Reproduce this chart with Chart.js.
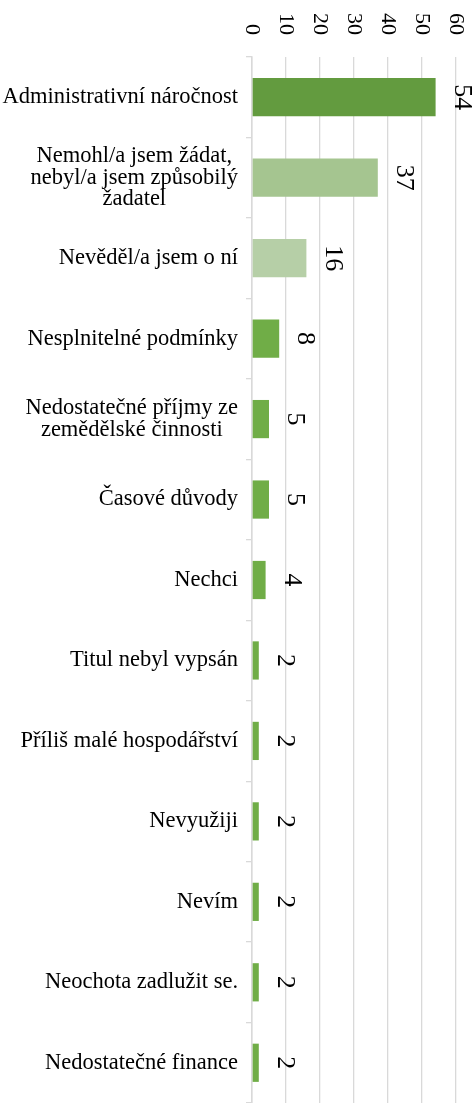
<!DOCTYPE html>
<html>
<head>
<meta charset="utf-8">
<script src="https://cdn.jsdelivr.net/npm/chart.js@4"></script>
<style>
html,body{margin:0;padding:0;background:#fff;}
canvas{display:block;}
</style>
</head>
<body>
<canvas id="c" width="476" height="1103" style="width:476px;height:1103px"></canvas>
<script>
const categories = [
  "Administrativní náročnost",
  ["Nemohl/a jsem žádat,", "nebyl/a jsem způsobilý", "žadatel"],
  "Nevěděl/a jsem o ní",
  "Nesplnitelné podmínky",
  ["Nedostatečné příjmy ze", "zemědělské činnosti"],
  "Časové důvody",
  "Nechci",
  "Titul nebyl vypsán",
  "Příliš malé hospodářství",
  "Nevyužiji",
  "Nevím",
  "Neochota zadlužit se.",
  "Nedostatečné finance"
];
const values = [54, 37, 16, 8, 5, 5, 4, 2, 2, 2, 2, 2, 2];
const xTicks = [0, 10, 20, 30, 40, 50, 60];
const barColors = ["#639B3F", "#A5C590", "#B6CFA7", "#70AD47", "#70AD47", "#70AD47", "#70AD47",
                   "#70AD47", "#70AD47", "#70AD47", "#70AD47", "#70AD47", "#70AD47"];

const FONT = '"Liberation Serif", "Times New Roman", serif';

const textPlugin = {
  id: 'texts',
  afterDraw(chart) {
    const ctx = chart.ctx;
    const xs = chart.scales.x, ys = chart.scales.y;
    ctx.save();
    ctx.fillStyle = '#000';
    // x tick labels, rotated clockwise
    ctx.font = '22px ' + FONT;
    xTicks.forEach(v => {
      const x = xs.getPixelForValue(v);
      ctx.save();
      ctx.translate(x, 35);
      ctx.rotate(Math.PI / 2);
      ctx.textAlign = 'right';
      ctx.textBaseline = 'middle';
      ctx.fillText(String(v), 0, 0);
      ctx.restore();
    });
    // value labels
    ctx.font = '26px ' + FONT;
    values.forEach((v, i) => {
      const x = xs.getPixelForValue(v) + 26;
      const y = ys.getPixelForValue(i);
      ctx.save();
      ctx.translate(x, y);
      ctx.rotate(Math.PI / 2);
      ctx.textAlign = 'center';
      ctx.textBaseline = 'middle';
      ctx.fillText(String(v), 0, 0);
      ctx.restore();
    });
    // category labels: block right-aligned, lines centered
    ctx.font = '22.5px ' + FONT;
    ctx.textBaseline = 'middle';
    ctx.textAlign = 'center';
    const rightEdge = ys.right - 14;
    const lh = 21.8;
    categories.forEach((c, i) => {
      const lines = Array.isArray(c) ? c : [c];
      const w = Math.max(...lines.map(l => ctx.measureText(l).width));
      const cx = rightEdge - w / 2;
      const cy = ys.getPixelForValue(i);
      lines.forEach((l, k) => {
        ctx.fillText(l, cx, cy + (k - (lines.length - 1) / 2) * lh);
      });
    });
    ctx.restore();
  }
};

new Chart(document.getElementById('c'), {
  type: 'bar',
  data: {
    labels: categories,
    datasets: [{
      data: values,
      backgroundColor: barColors,
      borderWidth: 0,
      barPercentage: 0.475,
      categoryPercentage: 1
    }]
  },
  options: {
    indexAxis: 'y',
    responsive: false,
    animation: false,
    devicePixelRatio: 1,
    layout: { padding: { left: 0, right: 20, top: 0, bottom: 0 } },
    plugins: { legend: { display: false }, tooltip: { enabled: false } },
    scales: {
      x: {
        position: 'top',
        min: 0, max: 60,
        ticks: { display: false, stepSize: 10 },
        grid: { color: '#d9d9d9', lineWidth: 1.3, drawTicks: false },
        border: { display: false },
        afterFit(s) { s.height = 57; }
      },
      y: {
        ticks: { display: false },
        grid: { offset: true, drawOnChartArea: false, color: '#d9d9d9', tickLength: 6, lineWidth: 1.3 },
        border: { display: true, color: '#d9d9d9', width: 1.5 },
        afterFit(s) { s.width = 252; }
      }
    }
  },
  plugins: [textPlugin]
});
</script>
</body>
</html>
